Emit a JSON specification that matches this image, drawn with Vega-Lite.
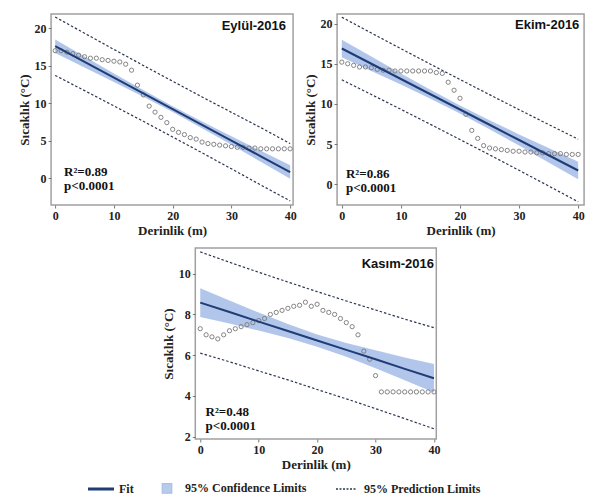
{
  "$schema": "https://vega.github.io/schema/vega-lite/v6.json",
  "padding": {"left": 17, "top": 13, "right": 4, "bottom": 4},
  "background": "white",
  "datasets": {
    "fit": [
      {"m":"Eylül","d":0,"fit":17.6,"clo":16.7,"chi":18.5,"plo":13.7,"phi":21.5},
      {"m":"Eylül","d":5,"fit":15.5,"clo":14.77,"chi":16.23,"plo":11.67,"phi":19.33},
      {"m":"Eylül","d":10,"fit":13.4,"clo":12.83,"chi":13.97,"plo":9.63,"phi":17.17},
      {"m":"Eylül","d":15,"fit":11.3,"clo":10.85,"chi":11.75,"plo":7.57,"phi":15.03},
      {"m":"Eylül","d":20,"fit":9.2,"clo":8.8,"chi":9.6,"plo":5.48,"phi":12.92},
      {"m":"Eylül","d":25,"fit":7.1,"clo":6.65,"chi":7.55,"plo":3.37,"phi":10.83},
      {"m":"Eylül","d":30,"fit":5.0,"clo":4.43,"chi":5.57,"plo":1.23,"phi":8.77},
      {"m":"Eylül","d":35,"fit":2.9,"clo":2.17,"chi":3.63,"plo":-0.93,"phi":6.73},
      {"m":"Eylül","d":40,"fit":0.8,"clo":-0.1,"chi":1.7,"plo":-3.05,"phi":4.6},
      {"m":"Ekim","d":0,"fit":16.9,"clo":15.8,"chi":18.0,"plo":13.0,"phi":20.8},
      {"m":"Ekim","d":5,"fit":15.0,"clo":14.11,"chi":15.89,"plo":11.17,"phi":18.83},
      {"m":"Ekim","d":10,"fit":13.1,"clo":12.4,"chi":13.8,"plo":9.32,"phi":16.88},
      {"m":"Ekim","d":15,"fit":11.2,"clo":10.64,"chi":11.76,"plo":7.45,"phi":14.95},
      {"m":"Ekim","d":20,"fit":9.3,"clo":8.8,"chi":9.8,"plo":5.56,"phi":13.04},
      {"m":"Ekim","d":25,"fit":7.4,"clo":6.84,"chi":7.96,"plo":3.65,"phi":11.15},
      {"m":"Ekim","d":30,"fit":5.5,"clo":4.8,"chi":6.2,"plo":1.72,"phi":9.28},
      {"m":"Ekim","d":35,"fit":3.6,"clo":2.71,"chi":4.49,"plo":-0.23,"phi":7.43},
      {"m":"Ekim","d":40,"fit":1.7,"clo":0.6,"chi":2.8,"plo":-2.2,"phi":5.6},
      {"m":"Kasım","d":0,"fit":8.58,"clo":7.88,"chi":9.28,"plo":6.1,"phi":11.07},
      {"m":"Kasım","d":5,"fit":8.12,"clo":7.56,"chi":8.68,"plo":5.68,"phi":10.56},
      {"m":"Kasım","d":10,"fit":7.65,"clo":7.21,"chi":8.09,"plo":5.23,"phi":10.07},
      {"m":"Kasım","d":15,"fit":7.19,"clo":6.85,"chi":7.53,"plo":4.79,"phi":9.59},
      {"m":"Kasım","d":20,"fit":6.72,"clo":6.42,"chi":7.02,"plo":4.32,"phi":9.12},
      {"m":"Kasım","d":25,"fit":6.26,"clo":5.92,"chi":6.6,"plo":3.86,"phi":8.66},
      {"m":"Kasım","d":30,"fit":5.8,"clo":5.36,"chi":6.24,"plo":3.38,"phi":8.22},
      {"m":"Kasım","d":35,"fit":5.33,"clo":4.77,"chi":5.89,"plo":2.89,"phi":7.77},
      {"m":"Kasım","d":40,"fit":4.87,"clo":4.17,"chi":5.57,"plo":2.39,"phi":7.35}
    ],
    "pts": [
      {"m":"Eylül","d":0,"t":17.0},{"m":"Eylül","d":1,"t":17.0},{"m":"Eylül","d":2,"t":16.8},{"m":"Eylül","d":3,"t":16.6},{"m":"Eylül","d":4,"t":16.4},{"m":"Eylül","d":5,"t":16.2},{"m":"Eylül","d":6,"t":16.0},{"m":"Eylül","d":7,"t":16.0},{"m":"Eylül","d":8,"t":15.8},{"m":"Eylül","d":9,"t":15.7},{"m":"Eylül","d":10,"t":15.6},{"m":"Eylül","d":11,"t":15.5},{"m":"Eylül","d":12,"t":15.2},{"m":"Eylül","d":13,"t":14.4},{"m":"Eylül","d":14,"t":12.4},{"m":"Eylül","d":15,"t":11.1},{"m":"Eylül","d":16,"t":9.6},{"m":"Eylül","d":17,"t":8.8},{"m":"Eylül","d":18,"t":8.1},{"m":"Eylül","d":19,"t":7.4},{"m":"Eylül","d":20,"t":6.5},{"m":"Eylül","d":21,"t":6.1},{"m":"Eylül","d":22,"t":5.8},{"m":"Eylül","d":23,"t":5.4},{"m":"Eylül","d":24,"t":5.2},{"m":"Eylül","d":25,"t":4.8},{"m":"Eylül","d":26,"t":4.6},{"m":"Eylül","d":27,"t":4.5},{"m":"Eylül","d":28,"t":4.4},{"m":"Eylül","d":29,"t":4.3},{"m":"Eylül","d":30,"t":4.2},{"m":"Eylül","d":31,"t":4.1},{"m":"Eylül","d":32,"t":4.1},{"m":"Eylül","d":33,"t":4.0},{"m":"Eylül","d":34,"t":4.0},{"m":"Eylül","d":35,"t":3.9},{"m":"Eylül","d":36,"t":3.9},{"m":"Eylül","d":37,"t":3.9},{"m":"Eylül","d":38,"t":3.9},{"m":"Eylül","d":39,"t":3.9},{"m":"Eylül","d":40,"t":3.9},
      {"m":"Ekim","d":0,"t":15.2},{"m":"Ekim","d":1,"t":15.0},{"m":"Ekim","d":2,"t":14.8},{"m":"Ekim","d":3,"t":14.6},{"m":"Ekim","d":4,"t":14.6},{"m":"Ekim","d":5,"t":14.5},{"m":"Ekim","d":6,"t":14.3},{"m":"Ekim","d":7,"t":14.2},{"m":"Ekim","d":8,"t":14.2},{"m":"Ekim","d":9,"t":14.1},{"m":"Ekim","d":10,"t":14.1},{"m":"Ekim","d":11,"t":14.1},{"m":"Ekim","d":12,"t":14.1},{"m":"Ekim","d":13,"t":14.1},{"m":"Ekim","d":14,"t":14.1},{"m":"Ekim","d":15,"t":14.1},{"m":"Ekim","d":16,"t":13.9},{"m":"Ekim","d":17,"t":13.8},{"m":"Ekim","d":18,"t":12.7},{"m":"Ekim","d":19,"t":11.7},{"m":"Ekim","d":20,"t":10.7},{"m":"Ekim","d":21,"t":8.7},{"m":"Ekim","d":22,"t":6.7},{"m":"Ekim","d":23,"t":5.7},{"m":"Ekim","d":24,"t":4.8},{"m":"Ekim","d":25,"t":4.5},{"m":"Ekim","d":26,"t":4.4},{"m":"Ekim","d":27,"t":4.3},{"m":"Ekim","d":28,"t":4.2},{"m":"Ekim","d":29,"t":4.1},{"m":"Ekim","d":30,"t":4.1},{"m":"Ekim","d":31,"t":4.0},{"m":"Ekim","d":32,"t":4.0},{"m":"Ekim","d":33,"t":3.9},{"m":"Ekim","d":34,"t":3.9},{"m":"Ekim","d":35,"t":3.8},{"m":"Ekim","d":36,"t":3.8},{"m":"Ekim","d":37,"t":3.8},{"m":"Ekim","d":38,"t":3.7},{"m":"Ekim","d":39,"t":3.7},{"m":"Ekim","d":40,"t":3.7},
      {"m":"Kasım","d":0,"t":7.3},{"m":"Kasım","d":1,"t":7.0},{"m":"Kasım","d":2,"t":6.9},{"m":"Kasım","d":3,"t":6.8},{"m":"Kasım","d":4,"t":7.0},{"m":"Kasım","d":5,"t":7.2},{"m":"Kasım","d":6,"t":7.3},{"m":"Kasım","d":7,"t":7.4},{"m":"Kasım","d":8,"t":7.5},{"m":"Kasım","d":9,"t":7.6},{"m":"Kasım","d":10,"t":7.7},{"m":"Kasım","d":11,"t":7.8},{"m":"Kasım","d":12,"t":8.0},{"m":"Kasım","d":13,"t":8.1},{"m":"Kasım","d":14,"t":8.2},{"m":"Kasım","d":15,"t":8.3},{"m":"Kasım","d":16,"t":8.4},{"m":"Kasım","d":17,"t":8.45},{"m":"Kasım","d":18,"t":8.6},{"m":"Kasım","d":19,"t":8.4},{"m":"Kasım","d":20,"t":8.5},{"m":"Kasım","d":21,"t":8.2},{"m":"Kasım","d":22,"t":8.1},{"m":"Kasım","d":23,"t":8.0},{"m":"Kasım","d":24,"t":7.8},{"m":"Kasım","d":25,"t":7.6},{"m":"Kasım","d":26,"t":7.4},{"m":"Kasım","d":27,"t":7.0},{"m":"Kasım","d":28,"t":6.2},{"m":"Kasım","d":29,"t":5.8},{"m":"Kasım","d":30,"t":5.0},{"m":"Kasım","d":31,"t":4.2},{"m":"Kasım","d":32,"t":4.2},{"m":"Kasım","d":33,"t":4.2},{"m":"Kasım","d":34,"t":4.2},{"m":"Kasım","d":35,"t":4.2},{"m":"Kasım","d":36,"t":4.2},{"m":"Kasım","d":37,"t":4.2},{"m":"Kasım","d":38,"t":4.2},{"m":"Kasım","d":39,"t":4.2},{"m":"Kasım","d":40,"t":4.2}
    ]
  },
  "vconcat": [
    {
      "hconcat": [
        {
          "width": 242, "height": 191,
          "layer": [
            {"data": {"name": "fit"}, "transform": [{"filter": "datum.m === 'Eylül'"}],
             "mark": {"type": "area", "color": "#a9c0e8", "opacity": 0.9},
             "encoding": {"x": {"field": "d", "type": "quantitative", "scale": {"domain": [-0.7, 40.5], "nice": false, "zero": false}, "axis": {"values": [0,10,20,30,40], "title": "Derinlik (m)", "titlePadding": 3}},
               "y": {"field": "clo", "type": "quantitative", "scale": {"domain": [-3.6, 21.9], "nice": false, "zero": false}, "axis": {"values": [0,5,10,15,20], "title": "Sıcaklık (°C)", "titlePadding": 3}}, "y2": {"field": "chi"}}},
            {"data": {"name": "fit"}, "transform": [{"filter": "datum.m === 'Eylül'"}],
             "mark": {"type": "line", "color": "#2b3552", "strokeDash": [2.5, 2], "strokeWidth": 1.2},
             "encoding": {"x": {"field": "d", "type": "quantitative"}, "y": {"field": "plo", "type": "quantitative"}}},
            {"data": {"name": "fit"}, "transform": [{"filter": "datum.m === 'Eylül'"}],
             "mark": {"type": "line", "color": "#2b3552", "strokeDash": [2.5, 2], "strokeWidth": 1.2},
             "encoding": {"x": {"field": "d", "type": "quantitative"}, "y": {"field": "phi", "type": "quantitative"}}},
            {"data": {"name": "pts"}, "transform": [{"filter": "datum.m === 'Eylül'"}],
             "mark": {"type": "point", "shape": "circle", "filled": false, "size": 18, "stroke": "#777777", "strokeWidth": 0.9, "opacity": 1},
             "encoding": {"x": {"field": "d", "type": "quantitative"}, "y": {"field": "t", "type": "quantitative"}}},
            {"data": {"name": "fit"}, "transform": [{"filter": "datum.m === 'Eylül'"}],
             "mark": {"type": "line", "strokeWidth": 2},
             "encoding": {"x": {"field": "d", "type": "quantitative"}, "y": {"field": "fit", "type": "quantitative"},
               "color": {"datum": "Fit", "scale": {"domain": ["Fit","95% Confidence Limits","95% Prediction Limits"], "range": ["#1f3c74","#a9c0e8","#2b3552"]},
                 "legend": {"orient": "none", "legendX": 44, "legendY": 468, "direction": "horizontal", "title": null, "padding": 0, "labelFont": "Liberation Serif", "labelFontWeight": "bold", "labelFontSize": 12, "labelColor": "#222", "symbolSize": 676, "columnPadding": 25, "labelOffset": 12,
                   "encode": {"symbols": {"update": {
                     "shape": {"signal": "datum.index === 1 ? 'square' : 'stroke'"},
                     "size": {"signal": "datum.index === 1 ? 90 : (datum.index === 0 ? 676 : 400)"},
                     "strokeDash": {"signal": "datum.index === 2 ? [2,1.5] : [1,0]"},
                     "strokeWidth": {"signal": "datum.index === 0 ? 3 : (datum.index === 2 ? 1.6 : 1.2)"},
                     "fill": {"signal": "datum.index === 1 ? '#b8cbec' : 'transparent'"},
                     "stroke": {"signal": "datum.index === 1 ? '#555555' : '#1f3c74'"},
                     "opacity": {"value": 1}
                   }}}}}}},
            {"data": {"values": [{"label": "Eylül-2016"}]},
             "mark": {"type": "text", "align": "right", "baseline": "middle", "font": "Liberation Sans", "fontWeight": "bold", "fontSize": 13, "color": "#111"},
             "encoding": {"text": {"field": "label"}, "x": {"datum": 39.3}, "y": {"datum": 20.3}}},
            {"data": {"values": [{"label": "R²=0.89"}]},
             "mark": {"type": "text", "align": "left", "baseline": "top", "font": "Liberation Serif", "fontWeight": "bold", "fontSize": 13, "lineHeight": 14, "color": "#111", "text": ["R²=0.89", "p<0.0001"]},
             "encoding": {"x": {"datum": 1.5}, "y": {"datum": 1.6}}}
          ]
        },
        {
          "width": 247, "height": 191,
          "layer": [
            {"data": {"name": "fit"}, "transform": [{"filter": "datum.m === 'Ekim'"}],
             "mark": {"type": "area", "color": "#a9c0e8", "opacity": 0.9},
             "encoding": {"x": {"field": "d", "type": "quantitative", "scale": {"domain": [-0.8, 41.0], "nice": false, "zero": false}, "axis": {"values": [0,10,20,30,40], "title": "Derinlik (m)", "titlePadding": 3}},
               "y": {"field": "clo", "type": "quantitative", "scale": {"domain": [-2.6, 21.2], "nice": false, "zero": false}, "axis": {"values": [0,5,10,15,20], "title": "Sıcaklık (°C)", "titlePadding": 3}}, "y2": {"field": "chi"}}},
            {"data": {"name": "fit"}, "transform": [{"filter": "datum.m === 'Ekim'"}],
             "mark": {"type": "line", "color": "#2b3552", "strokeDash": [2.5, 2], "strokeWidth": 1.2},
             "encoding": {"x": {"field": "d", "type": "quantitative"}, "y": {"field": "plo", "type": "quantitative"}}},
            {"data": {"name": "fit"}, "transform": [{"filter": "datum.m === 'Ekim'"}],
             "mark": {"type": "line", "color": "#2b3552", "strokeDash": [2.5, 2], "strokeWidth": 1.2},
             "encoding": {"x": {"field": "d", "type": "quantitative"}, "y": {"field": "phi", "type": "quantitative"}}},
            {"data": {"name": "pts"}, "transform": [{"filter": "datum.m === 'Ekim'"}],
             "mark": {"type": "point", "shape": "circle", "filled": false, "size": 18, "stroke": "#777777", "strokeWidth": 0.9, "opacity": 1},
             "encoding": {"x": {"field": "d", "type": "quantitative"}, "y": {"field": "t", "type": "quantitative"}}},
            {"data": {"name": "fit"}, "transform": [{"filter": "datum.m === 'Ekim'"}],
             "mark": {"type": "line", "strokeWidth": 2, "color": "#1f3c74"},
             "encoding": {"x": {"field": "d", "type": "quantitative"}, "y": {"field": "fit", "type": "quantitative"}}},
            {"data": {"values": [{"label": "Ekim-2016"}]},
             "mark": {"type": "text", "align": "right", "baseline": "middle", "font": "Liberation Sans", "fontWeight": "bold", "fontSize": 13, "color": "#111"},
             "encoding": {"text": {"field": "label"}, "x": {"datum": 40.2}, "y": {"datum": 19.85}}},
            {"data": {"values": [{"label": "R²=0.86"}]},
             "mark": {"type": "text", "align": "left", "baseline": "top", "font": "Liberation Serif", "fontWeight": "bold", "fontSize": 13, "lineHeight": 14, "color": "#111", "text": ["R²=0.86", "p<0.0001"]},
             "encoding": {"x": {"datum": 0.7}, "y": {"datum": 2.0}}}
          ]
        }
      ],
      "spacing": 44,
      "bounds": "flush"
    },
    {
      "width": 241, "height": 191,
      "layer": [
        {"data": {"name": "fit"}, "transform": [{"filter": "datum.m === 'Kasım'"}],
         "mark": {"type": "area", "color": "#a9c0e8", "opacity": 0.9},
         "encoding": {"x": {"field": "d", "type": "quantitative", "scale": {"domain": [-0.85, 40.4], "nice": false, "zero": false}, "axis": {"values": [0,10,20,30,40], "title": "Derinlik (m)", "titlePadding": 3}},
           "y": {"field": "clo", "type": "quantitative", "scale": {"domain": [1.89, 11.26], "nice": false, "zero": false}, "axis": {"values": [2,4,6,8,10], "title": "Sıcaklık (°C)", "titlePadding": 3}}, "y2": {"field": "chi"}}},
        {"data": {"name": "fit"}, "transform": [{"filter": "datum.m === 'Kasım'"}],
         "mark": {"type": "line", "color": "#2b3552", "strokeDash": [2.5, 2], "strokeWidth": 1.2},
         "encoding": {"x": {"field": "d", "type": "quantitative"}, "y": {"field": "plo", "type": "quantitative"}}},
        {"data": {"name": "fit"}, "transform": [{"filter": "datum.m === 'Kasım'"}],
         "mark": {"type": "line", "color": "#2b3552", "strokeDash": [2.5, 2], "strokeWidth": 1.2},
         "encoding": {"x": {"field": "d", "type": "quantitative"}, "y": {"field": "phi", "type": "quantitative"}}},
        {"data": {"name": "pts"}, "transform": [{"filter": "datum.m === 'Kasım'"}],
         "mark": {"type": "point", "shape": "circle", "filled": false, "size": 18, "stroke": "#777777", "strokeWidth": 0.9, "opacity": 1},
         "encoding": {"x": {"field": "d", "type": "quantitative"}, "y": {"field": "t", "type": "quantitative"}}},
        {"data": {"name": "fit"}, "transform": [{"filter": "datum.m === 'Kasım'"}],
         "mark": {"type": "line", "strokeWidth": 2, "color": "#1f3c74"},
         "encoding": {"x": {"field": "d", "type": "quantitative"}, "y": {"field": "fit", "type": "quantitative"}}},
        {"data": {"values": [{"label": "Kasım-2016"}]},
         "mark": {"type": "text", "align": "right", "baseline": "middle", "font": "Liberation Sans", "fontWeight": "bold", "fontSize": 13, "color": "#111"},
         "encoding": {"text": {"field": "label"}, "x": {"datum": 40.0}, "y": {"datum": 10.47}}},
        {"data": {"values": [{"label": "R²=0.48"}]},
         "mark": {"type": "text", "align": "left", "baseline": "top", "font": "Liberation Serif", "fontWeight": "bold", "fontSize": 13, "lineHeight": 14, "color": "#111", "text": ["R²=0.48", "p<0.0001"]},
         "encoding": {"x": {"datum": 0.9}, "y": {"datum": 3.5}}}
      ]
    }
  ],
  "spacing": 9,
  "center": true,
  "config": {
    "view": {"stroke": "#a0a0a0", "strokeWidth": 1.5},
    "axis": {"labelFont": "Liberation Serif", "labelFontWeight": "bold", "labelFontSize": 12, "labelColor": "#222", "titleFont": "Liberation Serif", "titleFontWeight": "bold", "titleFontSize": 13, "titleColor": "#222", "domain": false, "grid": false, "tickColor": "#777", "tickSize": 3, "labelPadding": 2}
  }
}
